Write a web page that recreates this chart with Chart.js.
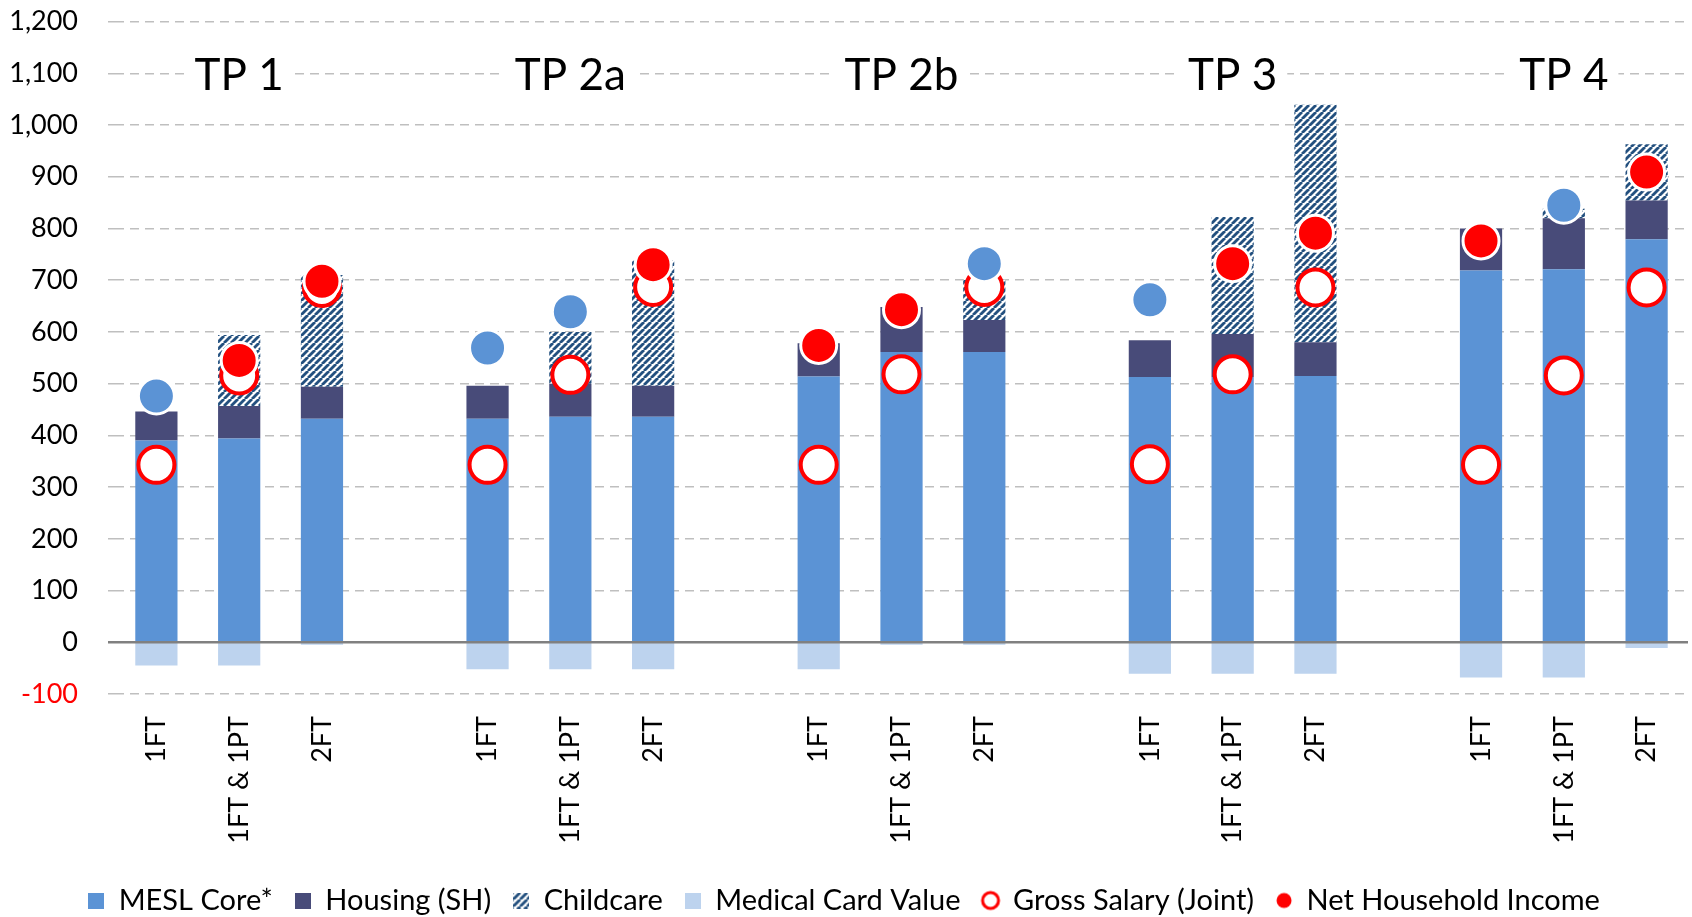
<!DOCTYPE html>
<html>
<head>
<meta charset="utf-8">
<title>MESL vs household income</title>
<script src="https://cdn.jsdelivr.net/npm/chart.js@4.4.1/dist/chart.umd.min.js"></script>
<style>
  html, body { margin: 0; padding: 0; background: #fff; }
  #wrap { width: 1692px; height: 917px; position: relative; }
</style>
</head>
<body>
<div id="wrap"><canvas id="chart"></canvas></div>
<script>
// groupes de ménages et situations d'emploi
const groups = ['TP 1', 'TP 2a', 'TP 2b', 'TP 3', 'TP 4'];
const workPatterns = ['1FT', '1FT & 1PT', '2FT'];

// valeurs hebdomadaires, 3 par groupe
const meslCore  = [390, 394, 432,  432, 436, 436,  514, 561, 561,  513, 513, 515,  719, 721, 779];
const housing   = [ 56,  63,  62,   64,  64,  60,   64,  87,  62,   71,  83,  65,   81,  99,  75];
const childcare = [  0, 137, 216,    0, 100, 242,    0,   0,  78,    0, 226, 459,    0,  18, 109];
const medical   = [-45, -45,  -5,  -52, -52, -52,  -52,  -5,  -5,  -61, -61, -61,  -68, -68, -11];
const gross     = [343, 516, 685,  343, 517, 687,  343, 518, 687,  344, 518, 686,  343, 516, 686];
const netIncome = [476, 545, 698,  569, 639, 730,  574, 643, 732,  662, 732, 791,  776, 845, 909];

const yTicks = { min: -100, max: 1200, step: 100 };

const BLUE = '#5B93D5', NAVY = '#484B79', LIGHT = '#BDD3EE', RED = '#FF0000';

// une case vide entre les groupes
const labels = [];
groups.forEach((g, i) => {
  workPatterns.forEach(p => labels.push(p));
  if (i < groups.length - 1) labels.push('');
});
function spread(vals) {
  const out = [];
  groups.forEach((g, i) => {
    for (let k = 0; k < 3; k++) out.push(vals[i * 3 + k]);
    if (i < groups.length - 1) out.push(null);
  });
  return out;
}

// motif hachuré pour la garde d'enfants
function hatchCanvas(size) {
  const c = document.createElement('canvas');
  c.width = size; c.height = size;
  const x = c.getContext('2d');
  x.fillStyle = '#fff';
  x.fillRect(0, 0, size, size);
  x.strokeStyle = '#23507F';
  x.lineWidth = 2.8;
  [-size, 0, size].forEach(o => {
    x.beginPath();
    x.moveTo(o, size);
    x.lineTo(o + size, 0);
    x.stroke();
  });
  return c;
}
const tile = hatchCanvas(7);
const hatch = document.createElement('canvas').getContext('2d').createPattern(tile, 'repeat');

// icônes de légende
function squareIcon(fill) {
  const c = document.createElement('canvas');
  c.width = 16; c.height = 16;
  const x = c.getContext('2d');
  x.fillStyle = fill;
  x.fillRect(0, 0, 16, 16);
  return c;
}
function ringIcon() {
  const c = document.createElement('canvas');
  c.width = 22; c.height = 22;
  const x = c.getContext('2d');
  x.beginPath(); x.arc(11, 11, 8, 0, Math.PI * 2);
  x.fillStyle = '#fff'; x.fill();
  x.lineWidth = 3; x.strokeStyle = RED; x.stroke();
  return c;
}
function dotIcon() {
  const c = document.createElement('canvas');
  c.width = 18; c.height = 18;
  const x = c.getContext('2d');
  x.beginPath(); x.arc(9, 9, 7.5, 0, Math.PI * 2);
  x.fillStyle = RED; x.fill();
  return c;
}
const hatchIcon = (() => {
  const c = document.createElement('canvas');
  c.width = 16; c.height = 16;
  const x = c.getContext('2d');
  x.fillStyle = x.createPattern(tile, 'repeat');
  x.fillRect(0, 0, 16, 16);
  return c;
})();
const icons = [squareIcon(BLUE), squareIcon(NAVY), hatchIcon, squareIcon(LIGHT), ringIcon(), dotIcon()];

// point bleu quand le revenu net couvre le total des coûts
const netColors = netIncome.map((v, i) => v >= meslCore[i] + housing[i] + childcare[i] ? BLUE : RED);

const groupTitles = {
  id: 'groupTitles',
  beforeDatasetsDraw(chart) {
    const { ctx } = chart;
    const xs = chart.scales.x, ys = chart.scales.y;
    ctx.save();
    ctx.font = '44px Lato';
    ctx.textAlign = 'center';
    ctx.textBaseline = 'middle';
    groups.forEach((g, i) => {
      const x = xs.getPixelForValue(i * 4 + 1);
      const y = ys.getPixelForValue(1095);
      const w = ctx.measureText(g).width;
      ctx.fillStyle = '#fff';
      ctx.fillRect(x - w / 2 - 10, y - 24, w + 20, 48);
      ctx.fillStyle = '#000';
      ctx.fillText(g, x, y);
    });
    ctx.restore();
  },
  afterDatasetsDraw(chart) {
    const { ctx, chartArea } = chart;
    const y = chart.scales.y.getPixelForValue(0);
    ctx.save();
    ctx.strokeStyle = '#808080';
    ctx.lineWidth = 2.5;
    ctx.beginPath();
    ctx.moveTo(chartArea.left - 7, y);
    ctx.lineTo(chartArea.right, y);
    ctx.stroke();
    ctx.restore();
  }
};

const barBase = { type: 'bar', stack: 'cost', barPercentage: 0.51, categoryPercentage: 1, borderWidth: 0, order: 3 };

new Chart(document.getElementById('chart'), {
  data: {
    labels: labels,
    datasets: [
      { ...barBase, label: 'MESL Core*', data: spread(meslCore), backgroundColor: BLUE },
      { ...barBase, label: 'Housing (SH)', data: spread(housing), backgroundColor: NAVY },
      { ...barBase, label: 'Childcare', data: spread(childcare), backgroundColor: hatch },
      { ...barBase, label: 'Medical Card Value', data: spread(medical), backgroundColor: LIGHT },
      {
        type: 'line', label: 'Gross Salary (Joint)', data: spread(gross), stack: 'gross',
        showLine: false, order: 2,
        pointRadius: 18, pointBorderWidth: 4, pointBackgroundColor: '#fff', pointBorderColor: RED
      },
      {
        type: 'line', label: 'Net Household Income', data: spread(netIncome), stack: 'net',
        showLine: false, order: 1,
        pointRadius: 18, pointBorderWidth: 3, pointBorderColor: '#fff',
        pointBackgroundColor: spread(netColors)
      }
    ]
  },
  options: {
    responsive: true,
    maintainAspectRatio: false,
    animation: false,
    locale: 'en-US',
    layout: { autoPadding: false, padding: { left: 0, right: 4, top: 21.6, bottom: -8 } },
    plugins: {
      tooltip: { enabled: false },
      legend: {
        position: 'bottom',
        labels: {
          color: '#000',
          font: { family: 'Lato', size: 29 },
          usePointStyle: true,
          boxWidth: 16,
          boxHeight: 16,
          padding: 22,
          sort: (a, b) => a.datasetIndex - b.datasetIndex,
          generateLabels(chart) {
            const items = Chart.defaults.plugins.legend.labels.generateLabels(chart);
            items.forEach(it => { it.pointStyle = icons[it.datasetIndex]; });
            return items;
          }
        }
      }
    },
    scales: {
      x: {
        stacked: true,
        grid: { display: false },
        border: { display: false },
        ticks: {
          color: '#000',
          font: { family: 'Lato', size: 27 },
          minRotation: 90,
          maxRotation: 90,
          autoSkip: false,
          padding: 14
        },
        afterFit(scale) {
          scale.height = 170;
          scale.paddingLeft = 0;
          scale.paddingRight = 0;
        }
      },
      y: {
        stacked: true,
        min: yTicks.min,
        max: yTicks.max,
        border: { display: false, dash: [9, 6] },
        grid: {
          color: (c) => c.tick && c.tick.value === 0 ? 'rgba(0,0,0,0)' : '#BFBFBF',
          lineWidth: 1.5,
          tickLength: 7,
          tickBorderDash: [9, 6]
        },
        ticks: {
          stepSize: yTicks.step,
          padding: 30,
          font: { family: 'Lato', size: 27 },
          color: (c) => c.tick.value < 0 ? RED : '#000',
          callback: (v) => v.toLocaleString('en-US')
        },
        afterFit(scale) {
          scale.width = 115;
          scale.paddingTop = 0;
          scale.paddingBottom = 0;
        }
      }
    }
  },
  plugins: [groupTitles]
});
</script>
</body>
</html>
